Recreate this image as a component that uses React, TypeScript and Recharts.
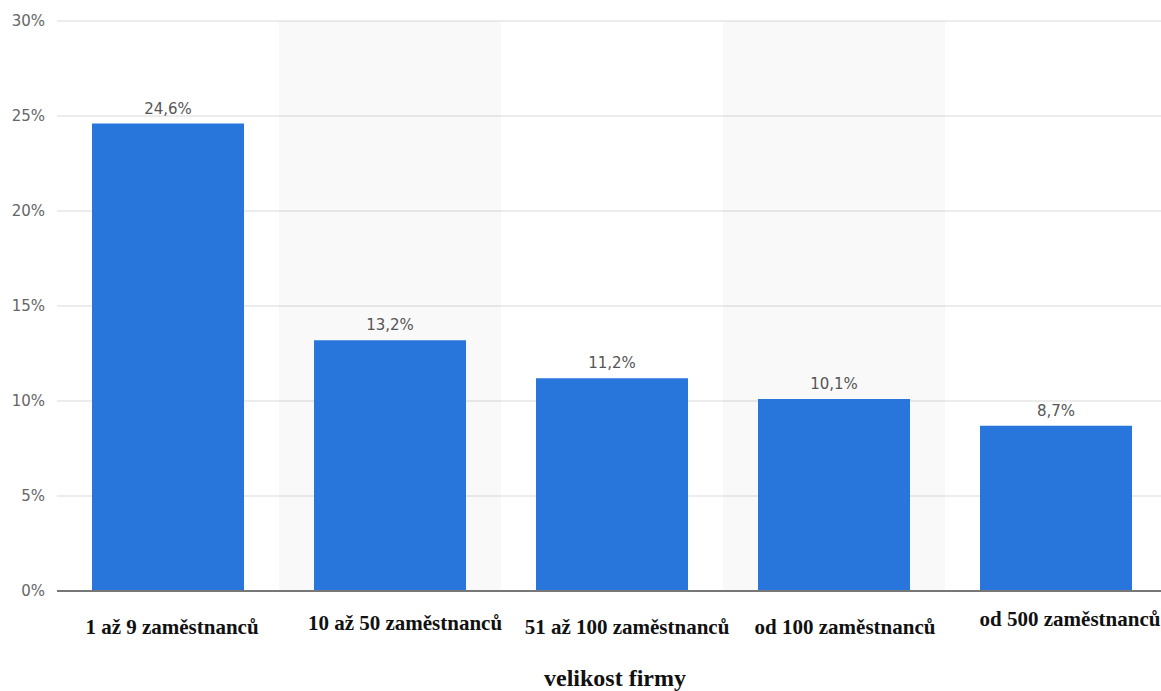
import React from 'react';
import { BarChart, Bar, XAxis, YAxis, CartesianGrid, ReferenceArea, LabelList } from 'recharts';

const categories = ['1 až 9 zaměstnanců', '10 až 50 zaměstnanců', '51 až 100 zaměstnanců', 'od 100 zaměstnanců', 'od 500 zaměstnanců'];
const shares = [24.6, 13.2, 11.2, 10.1, 8.7];
const yTicks = [0, 5, 10, 15, 20, 25, 30];
const shadedCategories = ['10 až 50 zaměstnanců', 'od 100 zaměstnanců'];
const tickShiftY = [0, -4, 0, 0, -8];
const tickShiftX = [4, 15, 15, 11, 14];

const data = categories.map((c, i) => ({ name: c, value: shares[i] }));

const fmt = (v: number) => `${String(v).replace('.', ',')}%`;

const XTick = (props: any) => {
  const { x, y, payload, index } = props;
  return (
    <text
      x={x + (tickShiftX[index] || 0)}
      y={y + 35 + (tickShiftY[index] || 0)}
      textAnchor="middle"
      fontFamily="'Liberation Serif', 'Times New Roman', serif"
      fontWeight="bold"
      fontSize={21}
      fill="#111"
    >
      {payload.value}
    </text>
  );
};

export default function App() {
  return (
    <div style={{ position: 'fixed', left: 0, top: 0, width: 1161, height: 691, overflow: 'hidden', background: '#fff' }}>
      <BarChart width={1170} height={691} data={data} margin={{ top: 21, right: 3, bottom: 0, left: 0 }}>
        {shadedCategories.map((c) => (
          <ReferenceArea key={c} x1={c} x2={c} y1={0} y2={30} fill="#000" fillOpacity={0.025} stroke="none" ifOverflow="extendDomain" />
        ))}
        <CartesianGrid vertical={false} stroke="#e6e6e6" strokeWidth={1.5} />
        <YAxis
          domain={[0, 30]}
          ticks={yTicks}
          width={57}
          axisLine={false}
          tickLine={false}
          tickSize={0}
          tickMargin={12}
          tickFormatter={(v: number) => `${v}%`}
          tick={{ fill: '#666', fontSize: 15, fontFamily: "'DejaVu Sans', sans-serif" }}
        />
        <XAxis
          dataKey="name"
          height={100}
          interval={0}
          tickLine={false}
          axisLine={{ stroke: '#777', strokeWidth: 2 }}
          tick={<XTick />}
          label={{
            value: 'velikost firmy',
            position: 'insideBottom',
            offset: 5,
            dx: 3,
            style: { fontFamily: "'Liberation Serif', 'Times New Roman', serif", fontWeight: 'bold', fontSize: 24, fill: '#111' },
          }}
        />
        <Bar dataKey="value" fill="#2876dc" barSize={152} isAnimationActive={false}>
          <LabelList
            dataKey="value"
            position="top"
            offset={10}
            formatter={(v: any) => fmt(v)}
            style={{ fill: '#555', fontSize: 15, fontFamily: "'DejaVu Sans', sans-serif" }}
          />
        </Bar>
      </BarChart>
    </div>
  );
}
